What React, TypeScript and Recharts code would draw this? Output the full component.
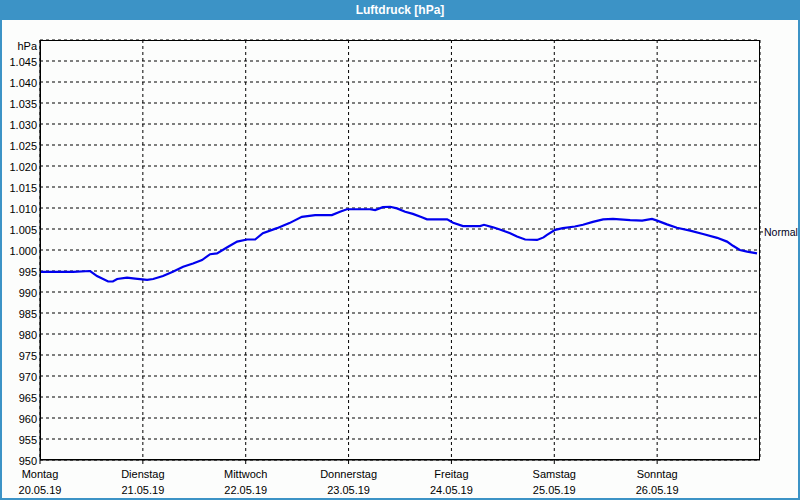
import { CartesianGrid, Line, LineChart, ReferenceLine, XAxis, YAxis } from 'recharts';

const FRAME_BLUE = '#3c93c6';
const LINE_BLUE = '#0000ee';
const FONT = '"Liberation Sans", Arial, sans-serif';

// hours since Monday 00:00
const HOURS = [
  0, 7.7, 11.7, 13.3, 15.9, 17.0, 18.0, 20.3, 22.2, 25.0, 26.4, 28.7, 31.0, 33.4, 35.7, 37.8,
  39.7, 41.3, 43.6, 46.0, 48.3, 50.2, 52.0, 55.3, 58.2, 61.1, 64.2, 68.1, 70.0, 71.6, 77.0,
  78.2, 80.0, 81.7, 83.3, 85.2, 87.0, 89.1, 90.3, 95.0, 96.4, 98.7, 102.7, 103.6, 105.7, 107.3,
  109.7, 111.3, 113.2, 116.0, 117.5, 118.3, 120.2, 122.0, 124.8, 126.7, 129.0, 131.4, 133.7,
  137.7, 140.5, 142.8, 144.0, 146.3, 148.6, 151.7, 154.7, 158.0, 160.3, 161.7, 163.3, 165.0,
  167.3,
];

const PRESSURE = [
  994.8, 994.8, 995.0, 993.8, 992.5, 992.5, 993.1, 993.4, 993.2, 992.9, 993.1, 993.8, 994.8,
  996.0, 996.8, 997.6, 999.0, 999.2, 1000.6, 1002.0, 1002.5, 1002.5, 1004.0, 1005.2, 1006.4,
  1007.9, 1008.3, 1008.3, 1009.1, 1009.7, 1009.7, 1009.5, 1010.2, 1010.3, 1009.9, 1009.1,
  1008.6, 1007.8, 1007.3, 1007.3, 1006.5, 1005.7, 1005.7, 1006.0, 1005.4, 1004.9, 1004.0,
  1003.2, 1002.5, 1002.4, 1003.0, 1003.6, 1004.8, 1005.2, 1005.6, 1006.0, 1006.7, 1007.3,
  1007.4, 1007.1, 1007.0, 1007.4, 1007.0, 1006.1, 1005.3, 1004.6, 1003.8, 1002.9, 1002.0,
  1001.0, 1000.0, 999.6, 999.2,
];

const DAY_NAMES = ['Montag', 'Dienstag', 'Mittwoch', 'Donnerstag', 'Freitag', 'Samstag', 'Sonntag'];
const DAY_DATES = ['20.05.19', '21.05.19', '22.05.19', '23.05.19', '24.05.19', '25.05.19', '26.05.19'];
const X_TICKS = [0, 24, 48, 72, 96, 120, 144];

const Y_TICKS = [
  950, 955, 960, 965, 970, 975, 980, 985, 990, 995, 1000, 1005, 1010, 1015, 1020, 1025, 1030,
  1035, 1040, 1045, 1050,
];
const NORMAL_VALUE = 1004.3;

const data = HOURS.map((h, i) => ({ h, p: PRESSURE[i] }));

function formatPressure(v: number): string {
  if (v === 1050) return 'hPa';
  if (v >= 1000) return `1.${String(v - 1000).padStart(3, '0')}`;
  return String(v);
}

interface TickProps {
  x?: number;
  y?: number;
  payload?: { value: number };
}

function DayTick({ x = 0, y = 0, payload }: TickProps) {
  const i = Math.round((payload?.value ?? 0) / 24);
  return (
    <g fontFamily={FONT} fontSize={11} fill="#000">
      <text x={x} y={y + 12} textAnchor="middle">
        {DAY_NAMES[i]}
      </text>
      <text x={x} y={y + 28} textAnchor="middle">
        {DAY_DATES[i]}
      </text>
    </g>
  );
}

function PressureTick({ x = 0, y = 0, payload }: TickProps) {
  const v = payload?.value ?? 0;
  return (
    <text
      x={x}
      y={y + (v === 1050 ? 10 : 5)}
      textAnchor="end"
      fontFamily={FONT}
      fontSize={11}
      fill="#000"
    >
      {formatPressure(v)}
    </text>
  );
}

export default function App() {
  return (
    <div
      style={{
        position: 'absolute',
        left: 0,
        top: 0,
        width: 800,
        height: 500,
        background: FRAME_BLUE,
      }}
    >
      <div
        style={{
          position: 'absolute',
          left: 0,
          top: 0,
          width: 800,
          height: 20,
          lineHeight: '20px',
          textAlign: 'center',
          color: '#fff',
          fontFamily: FONT,
          fontWeight: 'bold',
          fontSize: 12,
        }}
      >
        Luftdruck [hPa]
      </div>
      <div
        style={{
          position: 'absolute',
          left: 2,
          top: 20,
          width: 796,
          height: 478,
          background: '#fcfdfc',
        }}
      />
      <div style={{ position: 'absolute', left: 0, top: 0 }}>
        <LineChart
          width={800}
          height={500}
          data={data}
          margin={{ top: 40, right: 40, bottom: 0, left: 0 }}
        >
          <CartesianGrid stroke="#000" strokeDasharray="3 3" />
          <XAxis
            dataKey="h"
            type="number"
            domain={[0, 168]}
            ticks={X_TICKS}
            height={40}
            interval={0}
            axisLine={{ stroke: '#000' }}
            tickLine={{ stroke: '#000' }}
            tickSize={4}
            tickMargin={2}
            tick={<DayTick />}
          />
          <YAxis
            type="number"
            domain={[950, 1050]}
            ticks={Y_TICKS}
            interval={0}
            width={40}
            axisLine={{ stroke: '#000' }}
            tickLine={false}
            tickSize={0}
            tickMargin={3}
            tick={<PressureTick />}
          />
          <ReferenceLine
            segment={[
              { x: 168, y: NORMAL_VALUE },
              { x: 168.7, y: NORMAL_VALUE },
            ]}
            ifOverflow="visible"
            stroke="#000"
            label={{
              value: 'Normal',
              position: 'right',
              offset: 1,
              fill: '#000020',
              fontSize: 10.5,
              fontFamily: FONT,
            }}
          />
          <Line
            type="linear"
            dataKey="p"
            stroke={LINE_BLUE}
            strokeWidth={2.2}
            dot={false}
            activeDot={false}
            isAnimationActive={false}
          />
        </LineChart>
      </div>
      <div
        style={{
          position: 'absolute',
          left: 40,
          top: 40,
          width: 720,
          height: 420,
          border: '1px solid #000',
          boxSizing: 'border-box',
          pointerEvents: 'none',
        }}
      />
    </div>
  );
}
